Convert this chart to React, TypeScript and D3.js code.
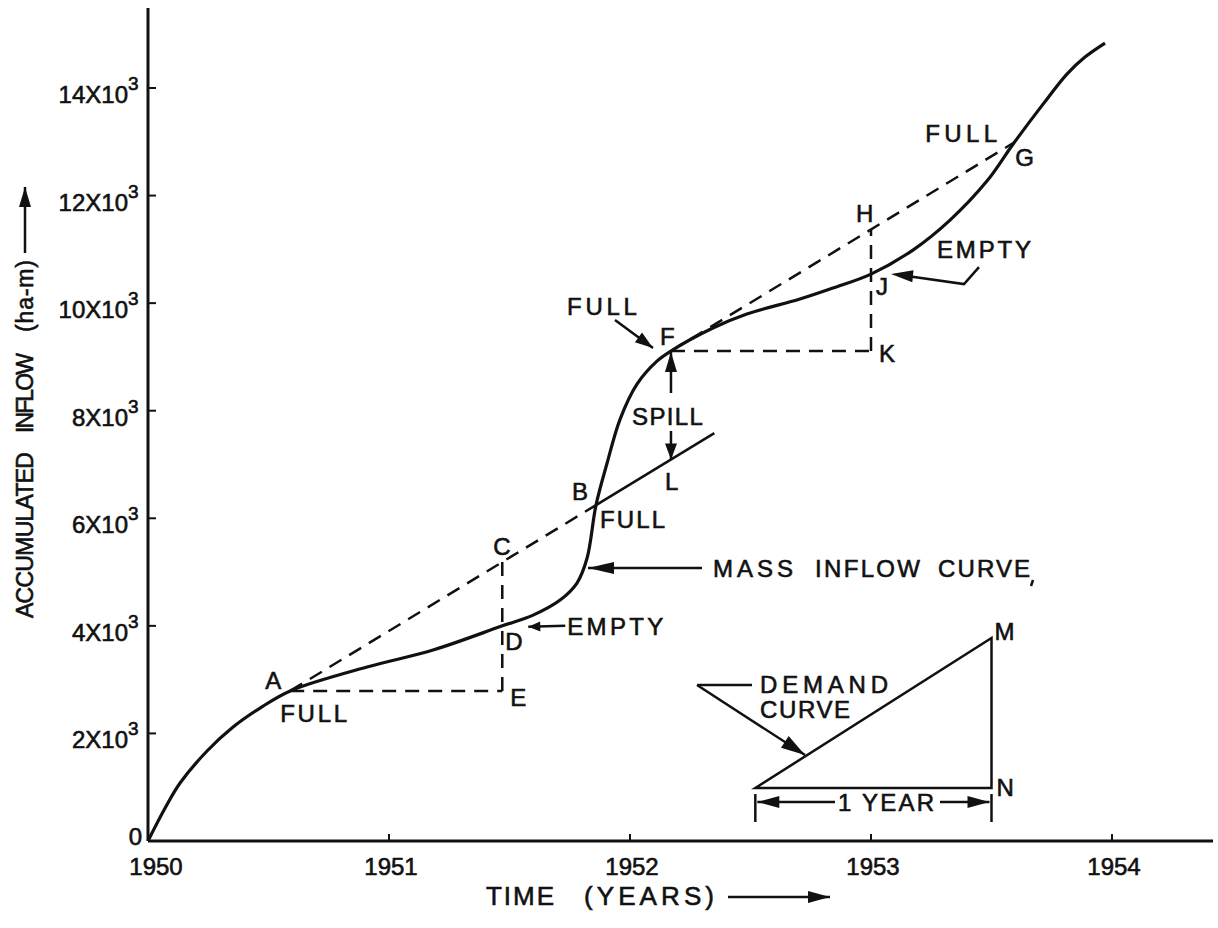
import React from 'react'
import * as d3 from 'd3'

// axis ticks
const yearTicks = [1950, 1951, 1952, 1953, 1954]
const inflowTicks = [0, 2000, 4000, 6000, 8000, 10000, 12000, 14000]
const inflowTickLabels = ['0', '2X10', '4X10', '6X10', '8X10', '10X10', '12X10', '14X10']

// mass inflow curve (ha-m accumulated)
const massYears = [1950, 1950.071, 1950.133, 1950.245, 1950.353, 1950.465, 1950.59, 1950.909, 1951.183, 1951.47,
  1951.598, 1951.71, 1951.78, 1951.822, 1951.859, 1951.905, 1951.959, 1952.029, 1952.112, 1952.17,
  1952.344, 1952.485, 1952.705, 1952.842, 1953.0, 1953.174, 1953.328, 1953.481, 1953.59, 1953.714,
  1953.813, 1953.888, 1953.971]
const massValues = [0, 613, 1078, 1673, 2119, 2472, 2790, 3235, 3551, 4000,
  4200, 4480, 4796, 5261, 6246, 7027, 7845, 8496, 8923, 9110,
  9537, 9797, 10076, 10280, 10540, 10987, 11544, 12269, 12960, 13700,
  14259, 14575, 14835]

// demand (draft) line, ha-m per year
const demandRate = 2723
const pointA = { year: 1950.59, value: 2790 }
const pointD = { year: 1951.47, value: 4000 }
const pointB = { year: 1951.859 }
const lineEndYear = 1952.35
const pointL = { year: 1952.17 }
const pointF = { year: 1952.17, value: 9110 }
const pointJ = { year: 1953.0, value: 10540 }
const pointG = { year: 1953.59 }

// demand curve triangle
const triYears = [1952.52, 1953.5]
const triValues = [985, 3775]

const W = 1218
const H = 928
const FONT = '"Liberation Sans", Arial, sans-serif'
const ink = '#111'

const x = d3.scaleLinear().domain([1950, 1954]).range([148, 1112])
const y = d3.scaleLinear().domain([0, 14000]).range([841, 88])

const onA = (yr: number) => pointA.value + demandRate * (yr - pointA.year)
const onF = (yr: number) => pointF.value + demandRate * (yr - pointF.year)

function Head({ tip, from, len = 16, half = 6 }: { tip: number[], from: number[], len?: number, half?: number }) {
  const dx = tip[0] - from[0], dy = tip[1] - from[1]
  const d = Math.hypot(dx, dy) || 1
  const ux = dx / d, uy = dy / d
  const bx = tip[0] - ux * len, by = tip[1] - uy * len
  const pts = [[tip[0], tip[1]], [bx - uy * half, by + ux * half], [bx + uy * half, by - ux * half]]
  return <polygon points={pts.map(p => p.join(',')).join(' ')} fill={ink} />
}

function Arrow({ from, to, len, half, sw = 2.5 }: { from: number[], to: number[], len?: number, half?: number, sw?: number }) {
  return <g>
    <line x1={from[0]} y1={from[1]} x2={to[0]} y2={to[1]} stroke={ink} strokeWidth={sw} />
    <Head tip={to} from={from} len={len} half={half} />
  </g>
}

function Label({ x: lx, y: ly, children, tl, size = 24, anchor = 'start', adjust = 'spacing' }:
  { x: number, y: number, children: any, tl?: number, size?: number, anchor?: string, adjust?: string }) {
  return <text x={lx} y={ly} fontSize={size} fill={ink} stroke={ink} strokeWidth={0.6} fontFamily={FONT}
    textAnchor={anchor} {...(tl ? { textLength: tl, lengthAdjust: adjust } : {})}>{children}</text>
}

export default function App() {
  const line = d3.line<number>().x((_, i) => x(massYears[i])).y(v => y(v)).curve(d3.curveCatmullRom.alpha(0.5))
  const massPath = line(massValues) || ''

  const ax = x(pointA.year), ay = y(pointA.value)
  const dx = x(pointD.year), dy = y(pointD.value)
  const cy = y(onA(pointD.year))
  const bx = x(pointB.year), by = y(onA(pointB.year))
  const ex = x(lineEndYear), ey = y(onA(lineEndYear))
  const lx = x(pointL.year), ly = y(onA(pointL.year))
  const fx = x(pointF.year), fy = y(pointF.value)
  const jx = x(pointJ.year), jy = y(pointJ.value)
  const hy = y(onF(pointJ.year))
  const gx = x(pointG.year), gy = y(onF(pointG.year))

  const t0x = x(triYears[0]), t1x = x(triYears[1])
  const t0y = y(triValues[0]), t1y = y(triValues[1])
  const brY = t0y + 14

  const dash = '14 9'

  return (
    <svg width={W} height={H} style={{ position: 'absolute', left: 0, top: 0, background: '#fff' }}>
      <rect width={W} height={H} fill="#fff" />
      {/* axes */}
      <line x1={x(1950)} y1={y(0)} x2={1213} y2={y(0)} stroke={ink} strokeWidth={3} />
      <line x1={x(1950)} y1={y(0)} x2={x(1950)} y2={8} stroke={ink} strokeWidth={3} />
      {yearTicks.map(t => (
        <g key={t}>
          {t > 1950 && <line x1={x(t)} x2={x(t)} y1={y(0)} y2={y(0) - 7} stroke={ink} strokeWidth={2} />}
          <Label x={x(t) + (t === 1950 ? 8 : 2)} y={y(0) + 34} anchor="middle">{t}</Label>
        </g>
      ))}
      {inflowTicks.map((v, i) => (
        <g key={v}>
          {v > 0 && <line x1={x(1950)} x2={x(1950) + 8} y1={y(v)} y2={y(v)} stroke={ink} strokeWidth={2} />}
          <Label x={v > 0 ? 128 : 142} y={y(v) + (v > 0 ? 15 : 4)} anchor="end">{inflowTickLabels[i]}</Label>
          {v > 0 && <Label x={128} y={y(v) + 2} size={19}>3</Label>}
        </g>
      ))}

      {/* axis titles */}
      <g transform="translate(33,618) rotate(-90)">
        <Label x={0} y={0} size={23} tl={166}>ACCUMULATED</Label>
        <Label x={185} y={0} size={23} tl={80}>INFLOW</Label>
        <Label x={286} y={0} size={23} tl={72}>(ha-m)</Label>
      </g>
      <Arrow from={[25, 253]} to={[25, 187]} len={20} half={6} />
      <Label x={486} y={905} size={26} tl={68}>TIME</Label>
      <Label x={584} y={905} size={26} tl={130}>(YEARS)</Label>
      <Arrow from={[728, 897]} to={[830, 897]} len={22} half={6} />

      {/* mass inflow curve */}
      <path d={massPath} fill="none" stroke={ink} strokeWidth={3.2} strokeLinejoin="round" />

      {/* demand lines */}
      <line x1={ax} y1={ay} x2={bx} y2={by} stroke={ink} strokeWidth={2.5} strokeDasharray={dash} />
      <line x1={bx} y1={by} x2={ex} y2={ey} stroke={ink} strokeWidth={2.5} />
      <line x1={ax} y1={ay} x2={dx} y2={ay} stroke={ink} strokeWidth={2.5} strokeDasharray={dash} />
      <line x1={dx} y1={ay} x2={dx} y2={cy} stroke={ink} strokeWidth={2.5} strokeDasharray={dash} />
      <line x1={fx} y1={fy} x2={gx} y2={gy} stroke={ink} strokeWidth={2.5} strokeDasharray={dash} />
      <line x1={fx} y1={fy} x2={jx} y2={fy} stroke={ink} strokeWidth={2.5} strokeDasharray={dash} />
      <line x1={jx} y1={fy} x2={jx} y2={hy} stroke={ink} strokeWidth={2.5} strokeDasharray={dash} />

      {/* letters */}
      <Label x={ax - 25} y={ay - 2}>A</Label>
      <Label x={ax - 10} y={ay + 31} tl={67}>FULL</Label>
      <Label x={dx + 8} y={ay + 15}>E</Label>
      <Label x={dx - 9} y={cy - 7}>C</Label>
      <Label x={dx + 3} y={dy + 24}>D</Label>
      <Arrow from={[dx + 63, dy]} to={[dx + 26, dy + 1]} len={12} half={5} />
      <Label x={dx + 65} y={dy + 9} tl={96}>EMPTY</Label>
      <Label x={bx - 24} y={by - 5}>B</Label>
      <Label x={bx + 4} y={by + 23} tl={65}>FULL</Label>
      <Label x={lx - 6} y={ly + 30}>L</Label>
      <Label x={lx - 39} y={fy + 74} tl={71}>SPILL</Label>
      <Arrow from={[lx, fy + 42]} to={[lx, fy + 1]} len={20} half={6} />
      <Arrow from={[lx, fy + 80]} to={[lx, ly]} len={16} half={6} />
      <Label x={fx - 11} y={fy - 6}>F</Label>
      <Label x={fx - 104} y={fy - 36} tl={70}>FULL</Label>
      <Arrow from={[fx - 56, fy - 31]} to={[fx - 18, fy - 3]} len={18} half={6} />
      <Label x={jx - 15} y={hy - 7}>H</Label>
      <Label x={jx + 5} y={jy + 21}>J</Label>
      <Label x={jx + 8} y={fy + 11}>K</Label>
      <Label x={jx + 66} y={jy - 16} tl={94}>EMPTY</Label>
      <polyline points={`${jx + 108},${jy - 7} ${jx + 93},${jy + 10} ${jx + 36},${jy + 2}`} fill="none" stroke={ink} strokeWidth={2.5} />
      <Head tip={[jx + 20, jy]} from={[jx + 40, jy + 2]} len={22} half={6} />
      <Label x={gx - 88} y={gy - 1} tl={72}>FULL</Label>
      <Label x={gx + 2} y={gy + 23}>G</Label>

      {/* mass inflow curve label */}
      <Arrow from={[702, 568]} to={[588, 568]} len={26} half={6} />
      <Label x={713} y={577} tl={80}>MASS</Label>
      <Label x={815} y={577} tl={105}>INFLOW</Label>
      <Label x={938} y={577} tl={92}>CURVE</Label>
      <line x1={1033} y1={580} x2={1031} y2={586} stroke={ink} strokeWidth={2.5} />

      {/* demand curve triangle */}
      <path d={`M${t0x},${t0y} L${t1x},${t1y} L${t1x},${t0y} Z`} fill="none" stroke={ink} strokeWidth={2.5} />
      <Label x={t1x + 3} y={t1y + 2}>M</Label>
      <Label x={t1x + 5} y={t0y + 8}>N</Label>
      <Label x={760} y={693} tl={128}>DEMAND</Label>
      <Label x={760} y={718} tl={90}>CURVE</Label>
      <polyline points={`752,685 697,685`} fill="none" stroke={ink} strokeWidth={2.5} />
      <Arrow from={[697, 685]} to={[805, 755]} len={24} half={7} />
      <line x1={t0x} x2={t0x} y1={brY - 8} y2={brY + 20} stroke={ink} strokeWidth={2.5} />
      <line x1={t1x} x2={t1x} y1={brY - 8} y2={brY + 20} stroke={ink} strokeWidth={2.5} />
      <Arrow from={[835, brY]} to={[t0x + 2, brY]} len={22} half={6} />
      <Arrow from={[940, brY]} to={[t1x - 2, brY]} len={22} half={6} />
      <Label x={838} y={brY + 9} tl={96}>1 YEAR</Label>
    </svg>
  )
}
